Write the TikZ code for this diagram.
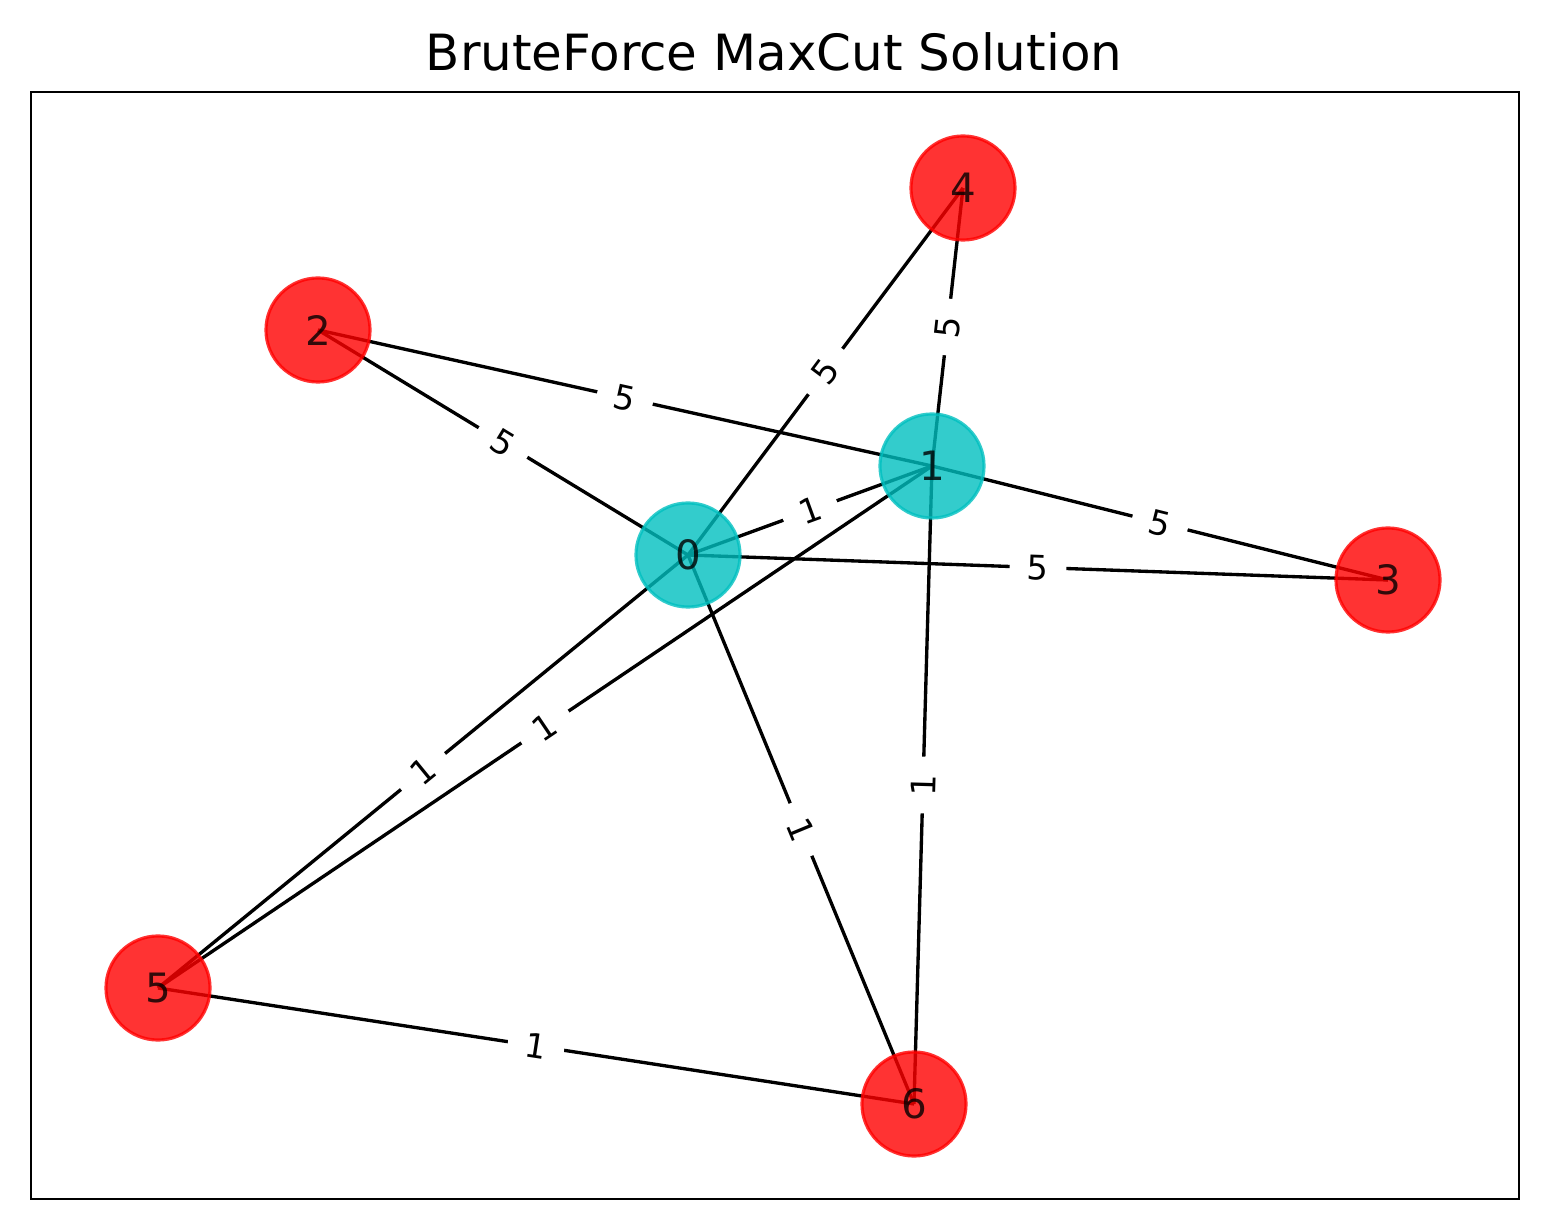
\documentclass[tikz,border=0pt]{standalone}
\usepackage{fontspec}
\setmainfont{DejaVu Sans}
\usetikzlibrary{backgrounds}
\definecolor{cutred}{RGB}{255,0,0}
\definecolor{cutcyan}{RGB}{0,191,191}

\begin{document}
\begin{tikzpicture}[x=0.01cm,y=-0.01cm,font=\fontsize{11.5}{13}\selectfont,
      vertex/.style={circle,inner sep=0pt,minimum size=1.04cm,line width=.9pt,fill opacity=.8,draw opacity=.8},
      redvert/.style={vertex,fill=cutred,draw=cutred},
      cyanvert/.style={vertex,fill=cutcyan,draw=cutcyan},
      wedge/.style={draw=black,line width=.95pt},
      weight/.style={midway,sloped,fill=white,rounded corners=3pt,inner xsep=5pt,inner ysep=2.5pt,font=\fontsize{9.6}{11}\selectfont}]
      \useasboundingbox (0,0) rectangle (1548,1231);
      \node[font=\fontsize{14.2}{16}\selectfont] (title) at (774,52) {BruteForce MaxCut Solution};
      \draw[line width=.8pt] (31,92) rectangle (1519,1199);
      % vertices
      \node[cyanvert] (n0) at (688,555) {0};
      \node[cyanvert] (n1) at (932,466) {1};
      \node[redvert] (n2) at (318,330) {2};
      \node[redvert] (n3) at (1388,580) {3};
      \node[redvert] (n4) at (963,188) {4};
      \node[redvert] (n5) at (158,988) {5};
      \node[redvert] (n6) at (914,1104) {6};
      % edges below the vertices
      \begin{pgfonlayer}{background}
        \foreach \a/\b in {0/1,0/2,0/3,0/4,0/5,0/6,1/2,1/3,1/4,1/5,1/6,5/6}
          \draw[wedge] (n\a.center) -- (n\b.center);
      \end{pgfonlayer}
      % weights
      \foreach \a/\b/\w in {0/1/1,0/2/5,0/3/5,0/4/5,0/5/1,0/6/1,1/2/5,1/3/5,1/4/5,1/5/1,1/6/1,5/6/1}
        \path (n\a.center) -- (n\b.center) node[weight] {\w};
\end{tikzpicture}
\end{document}
